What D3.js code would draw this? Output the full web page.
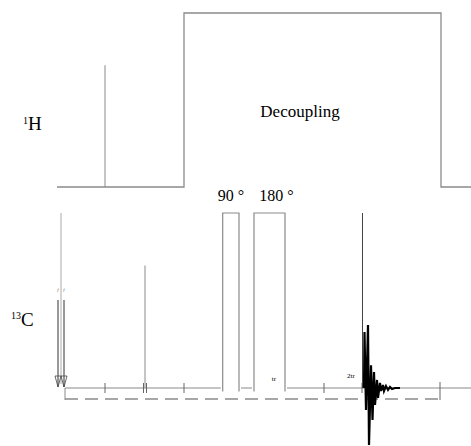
<!DOCTYPE html>
<html>
<head>
<meta charset="utf-8">
<script src="https://cdn.jsdelivr.net/npm/d3@7"></script>
<style>
  body { margin: 0; background: #fff; }
</style>
</head>
<body>
<div id="pulse-seq"></div>
<script>
var width = 471
var height = 446
var serif = '"Liberation Serif", "DejaVu Serif", "Times New Roman", serif'

// time axis (arbitrary units) shared by both channels
var hPulseT = [48]               // 1H excitation pulse
var hPulseAmp = [0.70]
var decoupleT = [127, 384]       // decoupling on / off
var cLongT = [4]                 // tall 13C marker at start
var cArrowT = [1, 7]             // arrows
var cPulseT = [88]               // small 13C pulse
var cPulseAmp = [0.70]
var rectPulses = [
  { label: '90°', t0: 165.7, t1: 182 },
  { label: '180°', t0: 197, t1: 228 }
]
var tickT = [48, 127, 267, 305]
var doubleTickT = [86.5, 89.5]
var endTickT = [383]
var acqT = [305.5]
var rotorLabels = [
  { text: 'tr', t: 217 },
  { text: '2tr', t: 294 }
]
// FID (damped oscillation)
var fidT =   [307, 307.5, 309, 311, 312, 314, 315.5, 317, 318, 320, 321, 323, 324, 326, 327, 329, 331, 333, 335, 338, 343]
var fidAmp = [0, 0.32, -0.126, 0.36, -0.326, 0.13, -0.183, 0.091, -0.097, 0.046, -0.057, 0.029, -0.017, 0.017, -0.017, 0.011, -0.011, 0.006, -0.006, 0, 0]

var x = d3.scaleLinear().domain([0, 414]).range([57, 471])
var yH = d3.scaleLinear().domain([0, 1]).range([187, 13])
var yC = d3.scaleLinear().domain([0, 1]).range([388, 213])
var dashY = 399

var svg = d3.select('#pulse-seq')
  .append('svg')
  .attr('width', width)
  .attr('height', height)

var grey = '#8a8a8a'

// ---- 1H channel ----
var hLine = d3.line().x(d => x(d[0])).y(d => yH(d[1]))
svg.append('path')
  .attr('d', hLine([[0, 0], [decoupleT[0], 0], [decoupleT[0], 1], [decoupleT[1], 1], [decoupleT[1], 0], [414, 0]]))
  .attr('fill', 'none')
  .attr('stroke', grey)
  .attr('stroke-width', 1.3)

svg.selectAll('.h-pulse')
  .data(hPulseT)
  .enter()
  .append('line')
  .attr('x1', d => x(d)).attr('x2', d => x(d))
  .attr('y1', yH(0)).attr('y2', (d, i) => yH(hPulseAmp[i]))
  .attr('stroke', grey)
  .attr('stroke-width', 1)

svg.append('text')
  .attr('x', 300)
  .attr('y', 117)
  .attr('text-anchor', 'middle')
  .attr('font-family', serif)
  .attr('font-size', '17px')
  .text('Decoupling')

var hLab = svg.append('text').attr('x', 23).attr('y', 130)
  .attr('font-family', serif).attr('font-size', '19px')
hLab.append('tspan').attr('font-size', '10px').attr('dy', -6).text('1')
hLab.append('tspan').attr('dy', 6).text('H')

var cLab = svg.append('text').attr('x', 11).attr('y', 326)
  .attr('font-family', serif).attr('font-size', '19px')
cLab.append('tspan').attr('font-size', '10px').attr('dy', -7).text('13')
cLab.append('tspan').attr('dy', 7).text('C')

// ---- 13C channel ----
// baseline
svg.append('line')
  .attr('x1', x(8)).attr('x2', x(414))
  .attr('y1', yC(0)).attr('y2', yC(0))
  .attr('stroke', grey)
  .attr('stroke-width', 1.2)

// dashed delay line
svg.append('line')
  .attr('x1', x(8)).attr('x2', x(endTickT[0]))
  .attr('y1', dashY).attr('y2', dashY)
  .attr('stroke', grey)
  .attr('stroke-width', 1.3)
  .attr('stroke-dasharray', '13,7')

svg.append('line')
  .attr('x1', x(8)).attr('x2', x(8))
  .attr('y1', yC(0)).attr('y2', dashY + 1)
  .attr('stroke', grey)

// tall start line
svg.selectAll('.c-long')
  .data(cLongT)
  .enter()
  .append('line')
  .attr('x1', d => x(d)).attr('x2', d => x(d))
  .attr('y1', yC(1)).attr('y2', yC(0) - 4)
  .attr('stroke', '#aaa')

// arrows
var arrowTop = 300
cArrowT.forEach(function (t) {
  var cx = x(t)
  svg.append('line')
    .attr('x1', cx).attr('x2', cx)
    .attr('y1', arrowTop).attr('y2', yC(0) - 1)
    .attr('stroke', '#333')
  svg.append('path')
    .attr('d', 'M' + (cx - 3) + ',' + (yC(0) - 12) + 'L' + cx + ',' + (yC(0) - 1) + 'L' + (cx + 3) + ',' + (yC(0) - 12) + 'Z')
    .attr('fill', 'none')
    .attr('stroke', '#444')
    .attr('stroke-width', 0.8)
  svg.append('text')
    .attr('x', cx)
    .attr('y', 291)
    .attr('text-anchor', 'middle')
    .attr('font-family', serif)
    .attr('font-size', '5px')
    .attr('font-style', 'italic')
    .attr('fill', '#666')
    .text('f')
})

// small 13C pulse
svg.selectAll('.c-pulse')
  .data(cPulseT)
  .enter()
  .append('line')
  .attr('x1', d => x(d)).attr('x2', d => x(d))
  .attr('y1', yC(0)).attr('y2', (d, i) => yC(cPulseAmp[i]))
  .attr('stroke', grey)

// ticks
svg.selectAll('.tick')
  .data(tickT.concat(doubleTickT))
  .enter()
  .append('line')
  .attr('x1', d => x(d)).attr('x2', d => x(d))
  .attr('y1', yC(0) - 5).attr('y2', yC(0) + 5)
  .attr('stroke', '#666')

svg.selectAll('.end-tick')
  .data(endTickT)
  .enter()
  .append('line')
  .attr('x1', d => x(d)).attr('x2', d => x(d))
  .attr('y1', yC(0) - 6).attr('y2', dashY + 1)
  .attr('stroke', '#666')

// 90 / 180 pulses
var rectLine = d3.line().x(d => x(d[0])).y(d => yC(d[1]))
rectPulses.forEach(function (p) {
  svg.append('rect')
    .attr('x', x(p.t0) - 2).attr('y', yC(0) - 2)
    .attr('width', x(p.t1) - x(p.t0) + 4).attr('height', 4)
    .attr('fill', '#fff')
  svg.append('path')
    .attr('d', rectLine([[p.t0, -0.02], [p.t0, 1], [p.t1, 1], [p.t1, -0.02]]))
    .attr('fill', 'none')
    .attr('stroke', grey)
    .attr('stroke-width', 1.2)
  svg.append('text')
    .attr('x', x((p.t0 + p.t1) / 2) + (p.label === '180°' ? 7 : 0))
    .attr('y', 201)
    .attr('text-anchor', 'middle')
    .attr('font-family', serif)
    .attr('font-size', '16px')
    .text(p.label.replace('°', ' °'))
})

// rotor period labels
svg.selectAll('.rotor')
  .data(rotorLabels)
  .enter()
  .append('text')
  .attr('x', d => x(d.t))
  .attr('y', (d, i) => i === 0 ? 381 : 378)
  .attr('text-anchor', 'middle')
  .attr('font-family', serif)
  .attr('font-size', '7px')
  .attr('fill', '#000')
  .text(d => d.text)

// acquisition trigger line
svg.selectAll('.acq')
  .data(acqT)
  .enter()
  .append('line')
  .attr('x1', d => x(d)).attr('x2', d => x(d))
  .attr('y1', yC(1)).attr('y2', yC(0))
  .attr('stroke', '#444')

// FID
var fidLine = d3.line().x(d => x(d[0])).y(d => yC(d[1]))
svg.append('path')
  .attr('d', fidLine(fidT.map((t, i) => [t, fidAmp[i]])))
  .attr('fill', 'none')
  .attr('stroke', '#000')
  .attr('stroke-width', 2.2)
  .attr('stroke-linejoin', 'miter')
</script>
</body>
</html>
